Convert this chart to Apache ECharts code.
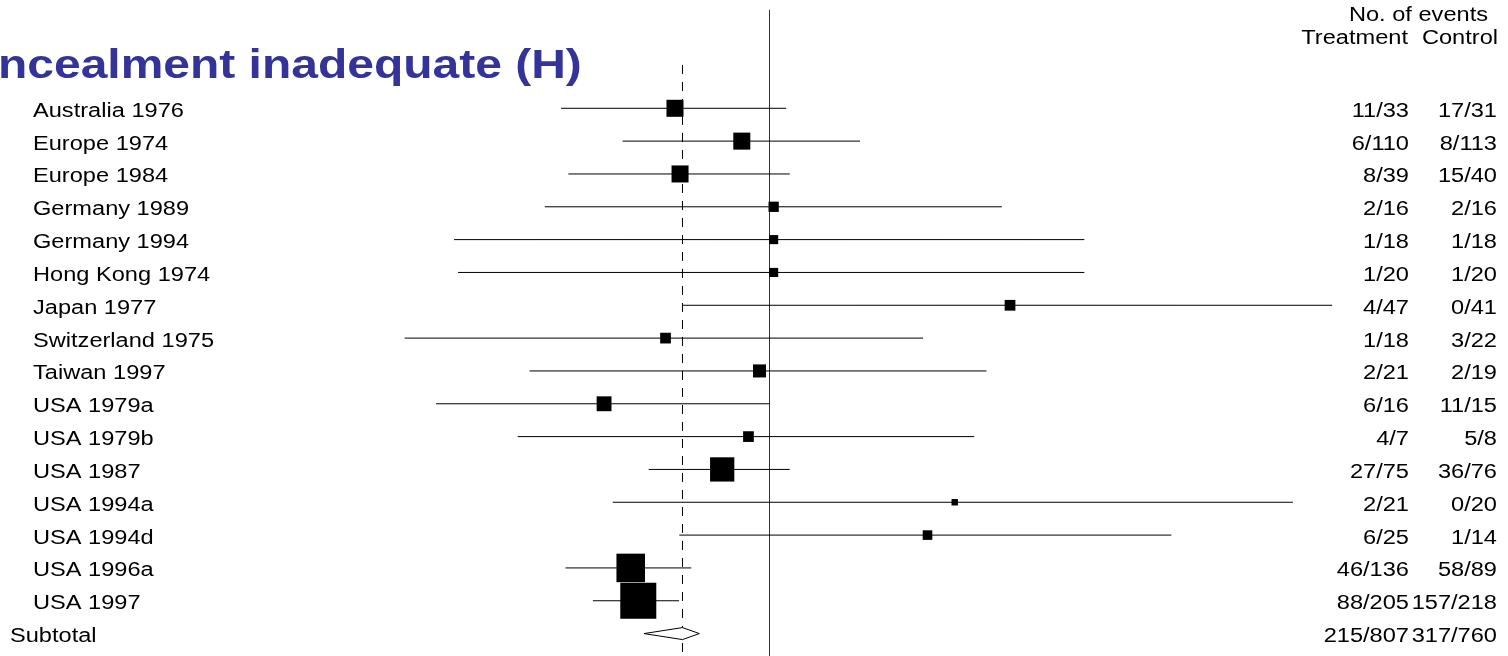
<!DOCTYPE html>
<html>
<head>
<meta charset="utf-8">
<title>Forest plot</title>
<script src="https://cdn.jsdelivr.net/npm/echarts@6/dist/echarts.min.js"></script>
<style>
  html, body { margin: 0; padding: 0; background: #ffffff; }
  #chart { width: 1508px; height: 656px; }
</style>
</head>
<body>
<div id="chart"></div>
<script>
// Trials with inadequate allocation concealment: odds ratios with 95% CI
const studies = ['Australia 1976', 'Europe 1974', 'Europe 1984', 'Germany 1989', 'Germany 1994',
  'Hong Kong 1974', 'Japan 1977', 'Switzerland 1975', 'Taiwan 1997', 'USA 1979a', 'USA 1979b',
  'USA 1987', 'USA 1994a', 'USA 1994d', 'USA 1996a', 'USA 1997'];
const oddsRatio = [0.41, 0.77, 0.43, 1.04, 1.04, 1.04, 9.67, 0.375, 0.91, 0.21, 0.82, 0.64, 5.74, 4.44, 0.27, 0.29];
const ciLower = [0.14, 0.25, 0.15, 0.12, 0.051, 0.053, 0.44, 0.032, 0.104, 0.043, 0.093, 0.32, 0.228, 0.427, 0.146, 0.189];
const ciUpper = [1.17, 2.35, 1.21, 8.95, 19.5, 19.5, 202, 4.26, 7.74, 1.00, 6.90, 1.21, 139.5, 44.3, 0.478, 0.426];
const weight = [6.3, 6.3, 6.3, 2.3, 1.8, 1.8, 2.5, 2.5, 3.7, 4.8, 2.5, 12.8, 0.9, 2.0, 17.7, 28.2];
const treatmentEvents = ['11/33', '6/110', '8/39', '2/16', '1/18', '1/20', '4/47', '1/18', '2/21',
  '6/16', '4/7', '27/75', '2/21', '6/25', '46/136', '88/205'];
const controlEvents = ['17/31', '8/113', '15/40', '2/16', '1/18', '1/20', '0/41', '3/22', '2/19',
  '11/15', '5/8', '36/76', '0/20', '1/14', '58/89', '157/218'];

// Pooled result
const subtotalLabel = 'Subtotal';
const subtotalTreatment = '215/807';
const subtotalControl = '317/760';
const pooledOR = 0.44;
const pooledLower = 0.306;
const pooledUpper = 0.516;

const titleText = 'ncealment inadequate (H)';
const headerTop = 'No. of events';
const headerTreatment = 'Treatment';
const headerControl = 'Control';

// Layout
const FONT = '"Liberation Sans", Arial, Helvetica, sans-serif';
const STRETCH = 1.18;
const LABEL_X = 33;
const SUBTOTAL_X = 10;
const TREAT_RIGHT = 1409;
const CTRL_RIGHT = 1497;
const TEXT_DROP = 3;
const BOX_SCALE = 6.78;
const nRows = studies.length;

const chart = echarts.init(document.getElementById('chart'), null, { renderer: 'canvas' });

function textEl(str, x, y, align, font, color) {
  return {
    type: 'text',
    x: x, y: y,
    scaleX: STRETCH, scaleY: 1,
    style: {
      text: str, x: 0, y: 0,
      textAlign: align, textVerticalAlign: 'middle',
      font: font, fill: color || '#000'
    }
  };
}

const studyData = studies.map((s, i) => [i, Math.log(ciLower[i]), Math.log(oddsRatio[i]), Math.log(ciUpper[i]), weight[i]]);
const textData = studies.map((s, i) => [i]).concat([[nRows]]);

const option = {
  animation: false,
  backgroundColor: '#ffffff',
  grid: { left: 27.5, right: 7.1, top: 9.8, bottom: 6 },
  xAxis: { type: 'value', min: -7, max: 6.9, show: false },
  yAxis: { type: 'value', min: -3, max: 16.5, inverse: true, show: false },
  graphic: [
    {
      type: 'text', x: -2, y: 67, scaleX: 1.17,
      style: {
        text: titleText, textAlign: 'left', textVerticalAlign: 'middle',
        font: 'bold 41px ' + FONT, fill: '#333399'
      }
    }
  ],
  series: [
    // reference lines: no effect (solid) and pooled estimate (dashed)
    {
      type: 'custom',
      data: [[0, -3, 0], [Math.log(pooledOR), -1.32, 1]],
      renderItem: function (params, api) {
        const top = api.coord([api.value(0), api.value(1)]);
        const dashed = api.value(2) === 1;
        return {
          type: 'line',
          shape: { x1: top[0], y1: top[1], x2: top[0], y2: api.getHeight() },
          style: {
            stroke: dashed ? '#000' : '#333',
            lineWidth: 1,
            lineDash: dashed ? [9, 8] : null
          }
        };
      },
      z: 1
    },
    // study confidence intervals and weighted boxes
    {
      type: 'custom',
      data: studyData,
      renderItem: function (params, api) {
        const row = api.value(0);
        const lo = api.coord([api.value(1), row]);
        const mid = api.coord([api.value(2), row]);
        const hi = api.coord([api.value(3), row]);
        const side = BOX_SCALE * Math.sqrt(api.value(4));
        return {
          type: 'group',
          children: [
            {
              type: 'line',
              shape: { x1: lo[0], y1: lo[1], x2: hi[0], y2: hi[1] },
              style: { stroke: '#000', lineWidth: 1 }
            },
            {
              type: 'rect',
              shape: { x: mid[0] - side / 2, y: mid[1] - side / 2, width: side, height: side },
              style: { fill: '#000' }
            }
          ]
        };
      },
      z: 2
    },
    // pooled diamond
    {
      type: 'custom',
      data: [[nRows, Math.log(pooledLower), Math.log(pooledOR), Math.log(pooledUpper)]],
      renderItem: function (params, api) {
        const row = api.value(0);
        const l = api.coord([api.value(1), row]);
        const c = api.coord([api.value(2), row]);
        const r = api.coord([api.value(3), row]);
        const h = 6;
        return {
          type: 'polygon',
          shape: { points: [[l[0], l[1]], [c[0], c[1] - h], [r[0], r[1]], [c[0], c[1] + h]] },
          style: { fill: '#fff', stroke: '#000', lineWidth: 1 }
        };
      },
      z: 3
    },
    // study labels and event counts
    {
      type: 'custom',
      data: textData,
      renderItem: function (params, api) {
        const row = api.value(0);
        const y = api.coord([0, row])[1] + TEXT_DROP;
        const f = '20px ' + FONT;
        const isSub = row === nRows;
        return {
          type: 'group',
          children: [
            textEl(isSub ? subtotalLabel : studies[row], isSub ? SUBTOTAL_X : LABEL_X, y, 'left', f),
            textEl(isSub ? subtotalTreatment : treatmentEvents[row], TREAT_RIGHT, y, 'right', f),
            textEl(isSub ? subtotalControl : controlEvents[row], CTRL_RIGHT, y, 'right', f)
          ]
        };
      },
      z: 4
    },
    // column headers
    {
      type: 'custom',
      data: [[-2.88, -2.18]],
      renderItem: function (params, api) {
        const y1 = api.coord([0, api.value(0)])[1] + 1.5;
        const y2 = api.coord([0, api.value(1)])[1] + 1.5;
        const f = '20px ' + FONT;
        return {
          type: 'group',
          children: [
            textEl(headerTop, 1488, y1, 'right', f),
            textEl(headerTreatment, 1408, y2, 'right', f),
            textEl(headerControl, 1498, y2, 'right', f)
          ]
        };
      },
      z: 4
    }
  ]
};

chart.setOption(option);
</script>
</body>
</html>
